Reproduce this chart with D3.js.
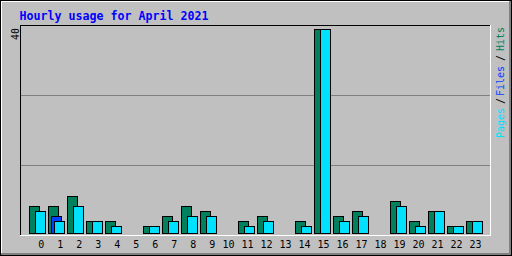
<html>
  <head>
    <style>
      body { margin: 0; background: #fff; }
      text { font-family: "DejaVu Sans Mono", monospace; }
    </style>
  </head>
  <body>
    <script src="https://d3js.org/d3.v7.min.js"></script>
    <script>
    var width = 512, height = 256;

    // hourly values
    var hours = d3.range(24);
    var hits  = [5, 5, 7, 2, 2, 0, 1, 3, 5, 4, 0, 2, 3, 0, 2, 40, 3, 4, 0, 6, 2, 4, 1, 2];
    var files = [0, 3, 0, 0, 0, 0, 0, 0, 0, 0, 0, 0, 0, 0, 0, 0, 0, 0, 0, 0, 0, 0, 0, 0];
    var pages = [4, 2, 5, 2, 1, 0, 1, 2, 3, 3, 0, 1, 2, 0, 1, 40, 2, 3, 0, 5, 1, 4, 1, 2];
    var maxLabel = "40";
    var title = "Hourly usage for April 2021";

    var colHits = "#00805c", colFiles = "#0040ff", colPages = "#00e0ff";

    var svg = d3.select("body")
        .append("svg")
        .attr("width", width)
        .attr("height", height)
        .style("display", "block")
        .attr("shape-rendering", "crispEdges");

    // background + 3d border
    svg.append("rect").attr("width", width).attr("height", height).attr("fill", "#c0c0c0");
    svg.append("rect").attr("x", 509).attr("y", 0).attr("width", 2).attr("height", 256).attr("fill", "#808080");
    svg.append("rect").attr("x", 0).attr("y", 253).attr("width", 512).attr("height", 2).attr("fill", "#808080");
    svg.append("rect").attr("x", 1).attr("y", 1).attr("width", 508).attr("height", 1).attr("fill", "#fff");
    svg.append("rect").attr("x", 1).attr("y", 1).attr("width", 1).attr("height", 252).attr("fill", "#fff");
    svg.append("rect").attr("x", 0.5).attr("y", 0.5).attr("width", 511).attr("height", 255)
        .attr("fill", "none").attr("stroke", "#000");

    // title
    svg.append("text")
        .attr("x", 19.5).attr("y", 19.5)
        .attr("font-size", "12px").attr("font-weight", "bold")
        .attr("fill", "#0000ff")
        .attr("textLength", 189).attr("lengthAdjust", "spacingAndGlyphs")
        .text(title);

    // scales
    var x = d3.scaleBand().domain(hours).range([29, 29 + 19 * 24]);
    var y = d3.scaleLinear().domain([0, 40]).range([231.4, 29]);
    var grid = d3.scaleLinear().domain([0, 3]).range([235, 25]);
    var base = 233;

    // grid lines
    svg.selectAll(".grid").data([1, 2]).enter().append("line")
        .attr("x1", 21).attr("x2", 490)
        .attr("y1", function(d){ return Math.round(grid(d)) + 0.5; })
        .attr("y2", function(d){ return Math.round(grid(d)) + 0.5; })
        .attr("stroke", "#808080");

    // plot frame
    svg.append("line").attr("x1", 20).attr("x2", 491).attr("y1", 25.5).attr("y2", 25.5).attr("stroke", "#000");
    svg.append("line").attr("x1", 20.5).attr("x2", 20.5).attr("y1", 25).attr("y2", 236).attr("stroke", "#000");
    svg.append("line").attr("x1", 20).attr("x2", 491).attr("y1", 235.5).attr("y2", 235.5).attr("stroke", "#fff");
    svg.append("line").attr("x1", 490.5).attr("x2", 490.5).attr("y1", 25).attr("y2", 236).attr("stroke", "#fff");

    function bars(values, offset, color) {
      svg.append("g").selectAll("rect")
          .data(hours.filter(function(h){ return values[h] > 0; }))
          .enter().append("rect")
          .attr("x", function(h){ return x(h) + offset + 0.5; })
          .attr("y", function(h){ return Math.round(y(values[h])) + 0.5; })
          .attr("width", 10)
          .attr("height", function(h){ return base - Math.round(y(values[h])); })
          .attr("fill", color)
          .attr("stroke", "#000");
    }
    bars(hits, 0, colHits);
    bars(files, 3, colFiles);
    bars(pages, 6, colPages);

    // hour labels
    svg.append("g").selectAll("text")
        .data(hours).enter().append("text")
        .attr("x", function(h){ return x(h) + (h < 10 ? 9.3 : 3.5); })
        .attr("y", 248)
        .attr("font-size", "10px")
        .attr("fill", "#000")
        .text(function(h){ return h; });

    // max label
    svg.append("text")
        .attr("transform", "translate(19,28) rotate(-90)")
        .attr("text-anchor", "end")
        .attr("font-size", "10px")
        .text(maxLabel);

    // legend on the right
    var legend = [
      {t: "Pages", c: colPages, y: 138},
      {t: "/", c: "#000", y: 104},
      {t: "Files", c: colFiles, y: 96},
      {t: "/", c: "#000", y: 61},
      {t: "Hits", c: colHits, y: 51}
    ];
    svg.append("g").selectAll("text")
        .data(legend).enter().append("text")
        .attr("transform", function(d){ return "translate(504," + d.y + ") rotate(-90)"; })
        .attr("font-size", "10px")
        .attr("fill", function(d){ return d.c; })
        .text(function(d){ return d.t; });
    </script>
  </body>
</html>
